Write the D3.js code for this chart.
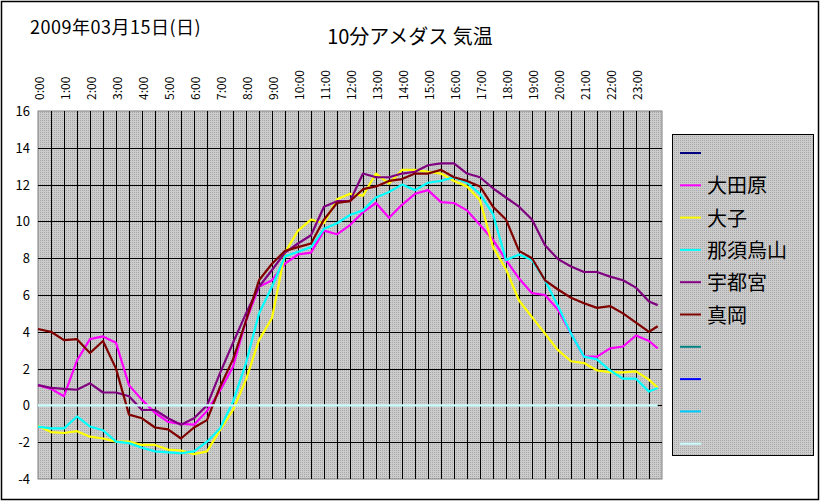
<!DOCTYPE html>
<html><head><meta charset="utf-8">
<script src="https://cdn.jsdelivr.net/npm/d3@7"></script>
<style>body{margin:0;background:#fff}svg{display:block}text{font-family:"Noto Sans CJK JP","DejaVu Sans",sans-serif}</style>
</head><body><svg id="c" width="822" height="502"></svg>
<script>
const times = d3.range(0, 24, 0.5).concat([23 + 50/60]);
const hourLabels = d3.range(0, 24).map(h => h + ":00");
const yTicks = d3.range(-4, 17, 2);
const names = ["", "大田原", "大子", "那須烏山", "宇都宮", "真岡", "", "", "", ""];
const colors = ["#000080","#ff00ff","#ffff00","#00ffff","#800080","#800000","#008080","#0000ff","#00ccff","#ccffff"];
const ootawara = [1.1,0.9,0.5,2.45,3.6,3.75,3.4,1.1,0.3,-0.4,-0.9,-1.0,-1.05,-0.3,0.8,2.1,4.6,6.45,6.8,7.7,8.2,8.3,9.5,9.3,9.8,10.5,11.0,10.2,10.9,11.5,11.7,11.05,11.0,10.6,9.8,9.0,7.9,6.9,6.1,6.0,5.2,3.9,2.65,2.65,3.1,3.2,3.8,3.5,3.1];
const daigo = [-1.1,-1.45,-1.5,-1.4,-1.7,-1.8,-1.97,-1.97,-2.15,-2.15,-2.4,-2.45,-2.65,-2.5,-1.35,-0.25,1.4,3.55,4.75,8.3,9.5,10.1,9.9,11.2,11.5,11.4,12.6,12.05,12.8,12.8,12.7,12.6,12.2,11.9,11.15,8.6,7.4,5.7,4.8,3.9,3.0,2.4,2.3,1.9,1.8,1.8,1.85,1.4,0.95];
const nasukarasuyama = [-1.15,-1.25,-1.25,-0.6,-1.15,-1.35,-1.97,-2.05,-2.3,-2.5,-2.55,-2.6,-2.5,-1.97,-1.25,0.2,2.3,5.0,6.45,8.1,8.35,8.6,9.6,9.9,10.35,10.6,11.3,11.6,12.0,11.7,12.1,12.2,12.4,12.1,11.5,10.4,7.9,8.2,7.9,6.8,5.4,3.9,2.65,2.5,1.9,1.45,1.45,0.75,0.95];
const utsunomiya = [1.1,0.95,0.9,0.85,1.2,0.7,0.7,0.5,-0.25,-0.25,-0.7,-1.05,-0.7,0.0,1.75,3.4,5.0,6.45,7.36,8.3,8.8,9.25,10.8,11.1,11.1,12.6,12.4,12.4,12.6,12.7,13.05,13.15,13.15,12.6,12.4,11.8,11.3,10.8,10.1,8.7,7.95,7.55,7.25,7.25,7.0,6.8,6.4,5.65,5.45];
const moka = [4.15,4.0,3.55,3.6,2.85,3.5,2.0,-0.5,-0.7,-1.2,-1.3,-1.8,-1.2,-0.8,1.0,2.5,4.6,6.8,7.7,8.4,8.6,8.8,10.1,11.0,11.1,11.75,11.9,12.2,12.3,12.6,12.6,12.8,12.4,12.2,11.9,10.8,10.1,8.4,8.0,6.8,6.3,5.85,5.55,5.3,5.4,5.0,4.5,4.0,4.3];
const zeroLine = times.map(() => 0);
const series = [null, ootawara, daigo, nasukarasuyama, utsunomiya, moka, null, null, null, zeroLine];

const svg = d3.select("#c");
const defs = svg.append("defs");
const pat = defs.append("pattern").attr("id","dots").attr("width",2).attr("height",2).attr("patternUnits","userSpaceOnUse");
pat.append("rect").attr("width",2).attr("height",2).attr("fill","#cccccc");
pat.append("rect").attr("width",1).attr("height",1).attr("fill","#a8a8a8");

svg.append("rect").attr("x",1.5).attr("y",1.5).attr("width",817).attr("height",498).attr("fill","#fff").attr("stroke","#000").attr("stroke-width",1.5);

const L = 38, R = 662, T = 111, B = 479;
const x = d3.scaleLinear().domain([0, 24]).range([L, R]);
const y = d3.scaleLinear().domain([-4, 16]).range([B, T]);

svg.append("rect").attr("x",L).attr("y",T).attr("width",R-L).attr("height",B-T).attr("fill","url(#dots)").attr("stroke","#808080");

const g = svg.append("g").attr("shape-rendering","crispEdges");
g.selectAll(".vg").data(d3.range(1, 48)).join("line")
  .attr("x1", d => Math.round(x(d/2))+0.5).attr("x2", d => Math.round(x(d/2))+0.5).attr("y1", T).attr("y2", B)
  .attr("stroke", "#000").attr("stroke-width", 1);
g.selectAll(".hg").data(yTicks.filter(v => v > -4 && v < 16)).join("line")
  .attr("x1", L).attr("x2", R).attr("y1", d => Math.round(y(d))+0.5).attr("y2", d => Math.round(y(d))+0.5)
  .attr("stroke", "#000").attr("stroke-width", 1);

svg.selectAll(".yt").data(yTicks).join("text")
  .attr("x", 30).attr("y", d => y(d) + 5).attr("text-anchor","end")
  .attr("font-size", 13).text(d => d);

svg.selectAll(".xt").data(hourLabels).join("text")
  .attr("transform", (d, i) => `translate(${x(i) + 6},100) rotate(-90)`)
  .attr("font-size", 12).text(d => d);

const line = d3.line().x((d, i) => x(times[i])).y(d => y(d));
series.forEach((s, i) => {
  if (!s) return;
  svg.append("path").datum(s).attr("d", line).attr("fill","none")
    .attr("stroke", colors[i]).attr("stroke-width", 2.2).attr("stroke-linejoin","round");
});

svg.append("text").attr("x", 30).attr("y", 34).attr("font-size", 18).attr("letter-spacing", 0.5).text("2009年03月15日(日)");
svg.append("text").attr("x", 410).attr("y", 44).attr("text-anchor","middle").attr("font-size", 20).text("10分アメダス 気温");

svg.append("rect").attr("x",672.5).attr("y",134.5).attr("width",141).attr("height",321).attr("fill","url(#dots)").attr("stroke","#000");
const lg = svg.selectAll(".lg").data(names).join("g").attr("transform", (d, i) => `translate(0,${153 + i*32.3})`);
lg.append("line").attr("x1",680).attr("x2",701).attr("stroke",(d,i)=>colors[i]).attr("stroke-width",2);
lg.append("text").attr("x",707).attr("y",8).attr("font-size",20).text(d => d);
</script></body></html>
